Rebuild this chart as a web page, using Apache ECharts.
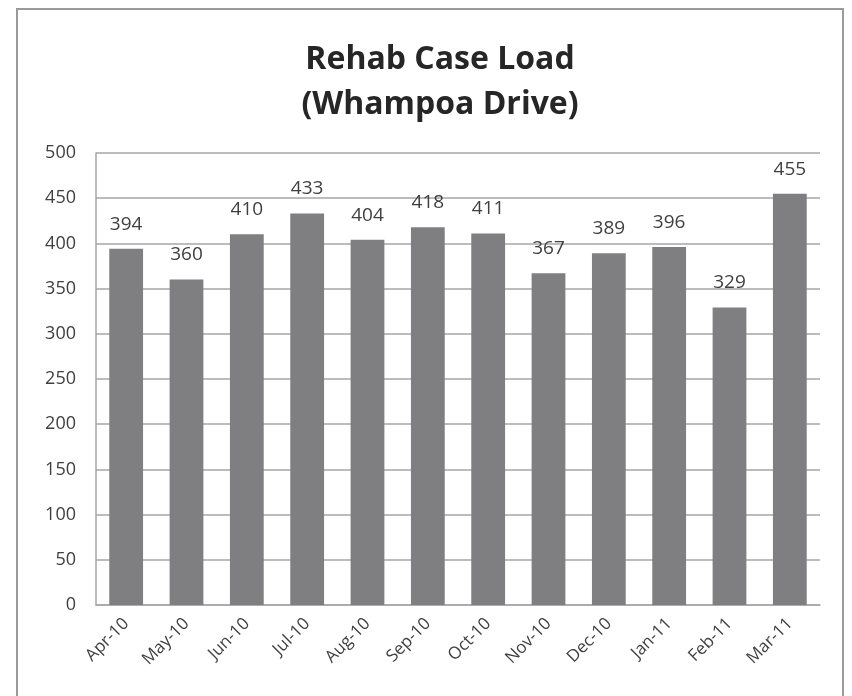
<!DOCTYPE html>
<html>
<head>
<meta charset="utf-8">
<script src="https://cdn.jsdelivr.net/npm/echarts@6/dist/echarts.min.js"></script>
<style>
  html, body { margin: 0; padding: 0; background: #fff; }
  #container { width: 852px; height: 696px; }
</style>
</head>
<body>
<div id="container"></div>
<script>
let chart = echarts.init(document.getElementById('container'));

var months = ['Apr-10', 'May-10', 'Jun-10', 'Jul-10', 'Aug-10', 'Sep-10',
              'Oct-10', 'Nov-10', 'Dec-10', 'Jan-11', 'Feb-11', 'Mar-11'];
var caseLoad = [394, 360, 410, 433, 404, 418, 411, 367, 389, 396, 329, 455];
var yTicks = { min: 0, max: 500, interval: 50 };

var textColor = '#404040';
var fontName = '"Open Sans", "Noto Sans", sans-serif';

var option = {
    animation: false,
    backgroundColor: '#fff',
    title: {
        text: 'Rehab Case Load\n(Whampoa Drive)',
        left: 435,
        textAlign: 'center',
        top: 32,
        textStyle: {
            fontFamily: fontName,
            fontSize: 32,
            fontWeight: 'bold',
            color: '#262626',
            lineHeight: 45
        }
    },
    graphic: [{
        type: 'rect',
        shape: { x: 17, y: 9, width: 826, height: 700 },
        style: { fill: null, stroke: '#9a9a9a', lineWidth: 2 },
        silent: true
    }],
    grid: {
        left: 96,
        right: 32,
        top: 153,
        bottom: 91
    },
    xAxis: {
        type: 'category',
        data: months,
        axisLine: { lineStyle: { color: '#a6a6a6', width: 1.5 } },
        axisTick: { show: false },
        axisLabel: {
            rotate: 45,
            interval: 0,
            margin: 16,
            fontFamily: fontName,
            fontSize: 17,
            color: textColor
        }
    },
    yAxis: {
        type: 'value',
        min: yTicks.min,
        max: yTicks.max,
        interval: yTicks.interval,
        axisLine: { show: true, lineStyle: { color: '#a6a6a6', width: 1.5 } },
        axisTick: { show: false },
        splitLine: { lineStyle: { color: '#a6a6a6', width: 1.5 } },
        axisLabel: {
            margin: 20,
            fontFamily: fontName,
            fontSize: 18,
            color: textColor
        }
    },
    series: [{
        type: 'bar',
        data: caseLoad,
        barCategoryGap: '44%',
        itemStyle: { color: '#7f7f82' },
        label: {
            show: true,
            position: 'top',
            distance: 15,
            fontFamily: fontName,
            fontSize: 19,
            color: textColor
        }
    }]
};

chart.setOption(option);
</script>
</body>
</html>
